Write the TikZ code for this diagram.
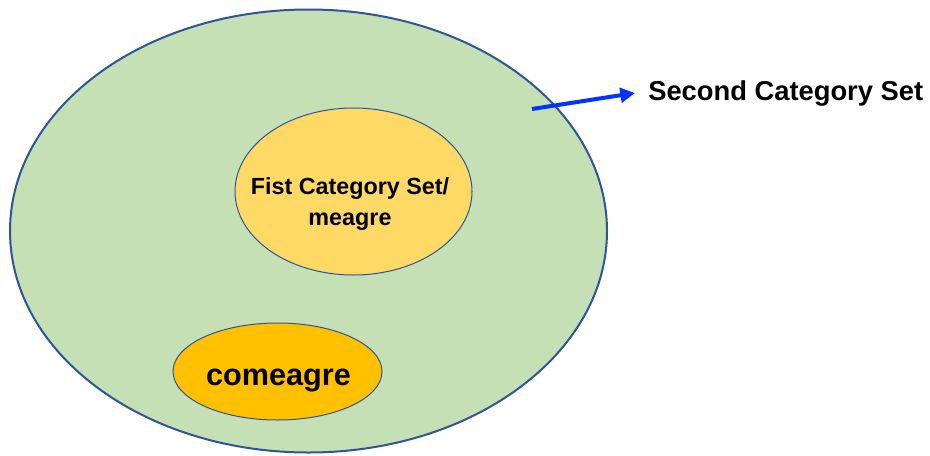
\documentclass[tikz,border=0pt]{standalone}
\usepackage{fontspec}
\setmainfont{Liberation Sans}
\usepackage{xcolor}
\usepackage{tikz}
\usetikzlibrary{arrows.meta,positioning,shapes.geometric}
\definecolor{setgreen}{HTML}{C5E0B4}
\definecolor{setline}{HTML}{2F5597}
\definecolor{meagrefill}{HTML}{FFD966}
\definecolor{comeagrefill}{HTML}{FFC000}
\definecolor{arrowblue}{HTML}{0432FF}

\begin{document}
\begin{tikzpicture}[x=0.75pt, y=0.75pt,
  bigset/.style={ellipse, draw=setline, line width=1.5pt, fill=setgreen, inner sep=0pt, minimum width=447.75pt, minimum height=332.25pt},
  subset/.style={ellipse, draw=setline, line width=0.75pt, inner sep=0pt},
  txt/.style={inner sep=0pt, align=center},
  arr/.style={-{Triangle[length=11pt, width=11pt]}, line width=3pt, draw=arrowblue, fill=arrowblue}
]
\useasboundingbox (0,0) rectangle (930,455);
\node[bigset] (second) at (308.5,224) {};
\node[subset, fill=meagrefill, minimum width=177.75pt, minimum height=125.25pt] (first) at (353.5,263.5) {};
\node[subset, fill=comeagrefill, minimum width=156.75pt, minimum height=72.75pt] (co) at (277.5,83.5) {};
\node[txt, font=\fontsize{17.5}{23.25}\selectfont\bfseries, anchor=base] (firsttxt) at (350,230) {Fist Category Set/\\meagre};
\node[txt, font=\fontsize{23}{28}\selectfont\bfseries, anchor=base] (cotxt) at (278.5,70) {comeagre};
\node[txt, font=\fontsize{20.5}{24}\selectfont\bfseries, anchor=base west, inner xsep=9.75pt] (secondtxt) at (635,355) {Second Category Set};
\coordinate (tail) at (532,346);
\draw[arr] (tail) -- (secondtxt.west);
\end{tikzpicture}
\end{document}
